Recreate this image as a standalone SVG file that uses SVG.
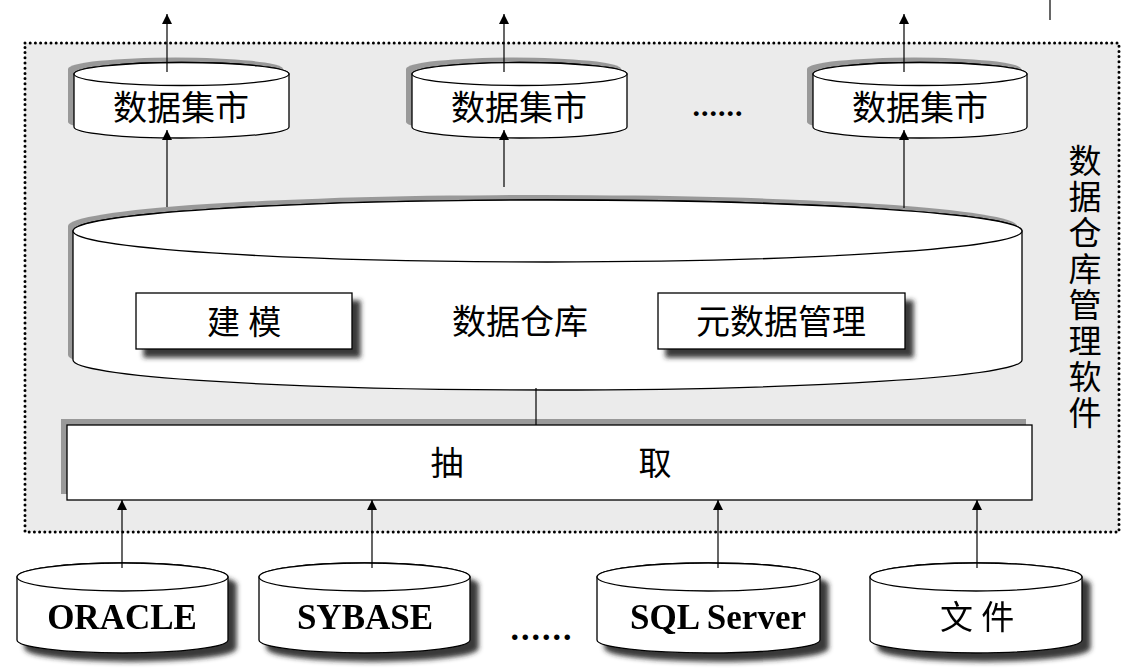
<svg xmlns="http://www.w3.org/2000/svg" width="1137" height="668" viewBox="0 0 1137 668">
<defs>
<style>
.cn{font-family:"Liberation Serif","Noto Sans CJK SC",serif;fill:#000;text-anchor:middle}
.en{font-family:"Liberation Serif",serif;font-weight:bold;fill:#000;text-anchor:middle}
.sh{fill:#999;stroke:none}
.body{fill:#fff;stroke:#000;stroke-width:1.3}
.ln{stroke:#000;stroke-width:1.2;fill:none}
</style>
<marker id="ah" viewBox="0 0 10 10" refX="10" refY="5" markerWidth="10" markerHeight="10" markerUnits="userSpaceOnUse" orient="auto">
<path d="M0,0 L10,5 L0,10 Z" fill="#000"/>
</marker>
<filter id="ds" x="-10%" y="-20%" width="130%" height="150%">
<feDropShadow dx="8" dy="8" stdDeviation="2.5" flood-color="#222" flood-opacity="0.9"/>
</filter>
</defs>
<rect width="1137" height="668" fill="#fff"/>
<line x1="1050" y1="0" x2="1050" y2="20" class="ln"/>
<g id="frame">
<rect x="25" y="43" width="1094" height="489" fill="#ebebeb" stroke="#000" stroke-width="3" stroke-dasharray="0 5.2" stroke-linecap="round"/>
<text class="cn" font-size="33" x="1085" y="173">数</text>
<text class="cn" font-size="33" x="1085" y="209">据</text>
<text class="cn" font-size="33" x="1085" y="245">仓</text>
<text class="cn" font-size="33" x="1085" y="281">库</text>
<text class="cn" font-size="33" x="1085" y="317">管</text>
<text class="cn" font-size="33" x="1085" y="353">理</text>
<text class="cn" font-size="33" x="1085" y="389">软</text>
<text class="cn" font-size="33" x="1085" y="425">件</text>
</g>
<g id="mart1">
<path class="sh" transform="translate(-6,-5)" d="M74,74 L74,127 A107.5,11 0 0 0 289,127 L289,74 A107.5,11.5 0 0 0 74,74 Z"/>
<path class="body" d="M74,74 L74,127 A107.5,11 0 0 0 289,127 L289,74 A107.5,11.5 0 0 0 74,74 Z"/>
<ellipse class="body" cx="181.5" cy="74" rx="107.5" ry="11.5"/>
<text class="cn" font-size="34" x="181" y="120">数据集市</text>
</g>
<g id="mart2">
<path class="sh" transform="translate(-6,-5)" d="M412,74 L412,127 A107.5,11 0 0 0 627,127 L627,74 A107.5,11.5 0 0 0 412,74 Z"/>
<path class="body" d="M412,74 L412,127 A107.5,11 0 0 0 627,127 L627,74 A107.5,11.5 0 0 0 412,74 Z"/>
<ellipse class="body" cx="519.5" cy="74" rx="107.5" ry="11.5"/>
<text class="cn" font-size="34" x="519" y="120">数据集市</text>
</g>
<text class="en" font-size="30" x="718" y="116" letter-spacing="1">......</text>
<g id="mart3">
<path class="sh" transform="translate(-6,-5)" d="M813,74 L813,127 A107,11 0 0 0 1027,127 L1027,74 A107,11.5 0 0 0 813,74 Z"/>
<path class="body" d="M813,74 L813,127 A107,11 0 0 0 1027,127 L1027,74 A107,11.5 0 0 0 813,74 Z"/>
<ellipse class="body" cx="920" cy="74" rx="107" ry="11.5"/>
<text class="cn" font-size="34" x="920" y="120">数据集市</text>
</g>
<g id="warehouse">
<path class="sh" transform="translate(-5,-5)" d="M73,231 L73,360 A474.5,30 0 0 0 1022,360 L1022,231 A474.5,31 0 0 0 73,231 Z"/>
<path class="body" d="M73,231 L73,360 A474.5,30 0 0 0 1022,360 L1022,231 A474.5,31 0 0 0 73,231 Z"/>
<ellipse class="body" cx="547.5" cy="231" rx="474.5" ry="31"/>
<text class="cn" font-size="34" x="520" y="334">数据仓库</text>
</g>
<g id="modeling">
<rect x="136" y="293" width="216" height="56" fill="#fff" stroke="#000" stroke-width="1.3" filter="url(#ds)"/>
<text class="cn" font-size="33" x="244" y="334">建 模</text>
</g>
<g id="metadata">
<rect x="658" y="293" width="247" height="56" fill="#fff" stroke="#000" stroke-width="1.3" filter="url(#ds)"/>
<text class="cn" font-size="34" x="781" y="334">元数据管理</text>
</g>
<g id="extract">
<rect class="sh" x="61" y="419" width="965" height="75"/>
<rect x="67" y="425" width="965" height="75" fill="#fff" stroke="#000" stroke-width="1.3"/>
<text class="cn" font-size="33" x="447" y="475">抽</text>
<text class="cn" font-size="33" x="655" y="475">取</text>
</g>
<g id="oracle" filter="url(#ds)">
<path class="body" d="M17,577 L17,640 A105.5,13 0 0 0 228,640 L228,577 A105.5,14 0 0 0 17,577 Z"/>
<ellipse class="body" cx="122.5" cy="577" rx="105.5" ry="14"/>
<text class="en" font-size="35" x="122" y="629">ORACLE</text>
</g>
<g id="sybase" filter="url(#ds)">
<path class="body" d="M259,577 L259,640 A105.5,13 0 0 0 470,640 L470,577 A105.5,14 0 0 0 259,577 Z"/>
<ellipse class="body" cx="364.5" cy="577" rx="105.5" ry="14"/>
<text class="en" font-size="35" x="365" y="629">SYBASE</text>
</g>
<text class="en" font-size="34" x="542" y="640" letter-spacing="2">......</text>
<g id="sqlserver" filter="url(#ds)">
<path class="body" d="M597,577 L597,640 A111.5,13 0 0 0 820,640 L820,577 A111.5,14 0 0 0 597,577 Z"/>
<ellipse class="body" cx="708.5" cy="577" rx="111.5" ry="14"/>
<text class="en" font-size="35" x="718" y="629">SQL Server</text>
</g>
<g id="file" filter="url(#ds)">
<path class="body" d="M870,577 L870,640 A106,13 0 0 0 1082,640 L1082,577 A106,14 0 0 0 870,577 Z"/>
<ellipse class="body" cx="976" cy="577" rx="106" ry="14"/>
<text class="cn" font-size="33" x="977" y="629">文 件</text>
</g>
<g id="connectors">
<line class="ln" x1="167" y1="72" x2="167" y2="14" marker-end="url(#ah)"/>
<line class="ln" x1="504" y1="72" x2="504" y2="14" marker-end="url(#ah)"/>
<line class="ln" x1="904" y1="72" x2="904" y2="14" marker-end="url(#ah)"/>
<line class="ln" x1="167" y1="207" x2="167" y2="130" marker-end="url(#ah)"/>
<line class="ln" x1="504" y1="187" x2="504" y2="130" marker-end="url(#ah)"/>
<line class="ln" x1="904" y1="208" x2="904" y2="130" marker-end="url(#ah)"/>
<line class="ln" x1="536" y1="388" x2="536" y2="425"/>
<line class="ln" x1="122" y1="568" x2="122" y2="500" marker-end="url(#ah)"/>
<line class="ln" x1="372" y1="568" x2="372" y2="500" marker-end="url(#ah)"/>
<line class="ln" x1="718" y1="568" x2="718" y2="500" marker-end="url(#ah)"/>
<line class="ln" x1="977" y1="568" x2="977" y2="500" marker-end="url(#ah)"/>
</g>
</svg>
